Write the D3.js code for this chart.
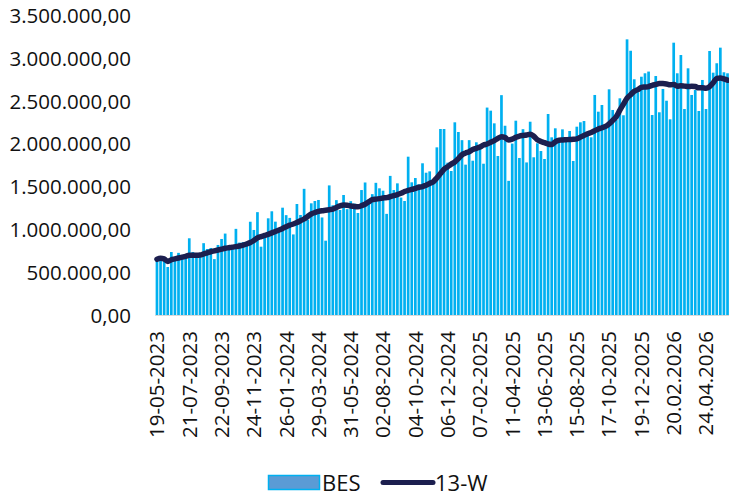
<!DOCTYPE html>
<html>
<head>
<meta charset="utf-8">
<script src="https://cdn.jsdelivr.net/npm/d3@7/dist/d3.min.js"></script>
<style>
	body { margin: 0; background: #fff; }
	svg text { font-family: 'Open Sans', 'Noto Sans', sans-serif; fill: #111; }
</style>
</head>
<body>
<div id="chart"></div>
<script>
// weekly BES values, first week 19-05-2023
var bes = [
	640, 650, 660, 560, 735, 665, 725, 690, 690, 895,
	735, 700, 700, 838, 770, 782, 652, 817, 887, 950,
	790, 805, 1005, 845, 850, 855, 1088, 992, 1200, 797,
	935, 1128, 1210, 1089, 975, 1252, 1165, 1133, 940, 1295,
	1167, 1472, 1110, 1303, 1330, 1342, 1138, 867, 1512, 1280,
	1340, 1225, 1400, 1235, 1328, 1300, 1190, 1458, 1546, 1300,
	1410, 1542, 1478, 1450, 1180, 1623, 1458, 1536, 1370, 1330,
	1847, 1548, 1598, 1525, 1770, 1660, 1676, 1575, 1956, 2170,
	2170, 1777, 1680, 2248, 2135, 2040, 1754, 2040, 1800, 2015,
	1950, 1765, 2420, 2384, 2236, 1855, 2565, 2208, 1565, 2000,
	2267, 1832, 2168, 1780, 2255, 1840, 2003, 1913, 1820, 2345,
	2073, 2178, 2061, 2166, 2040, 2147, 1797, 2197, 2248, 2263,
	2100, 2073, 2567, 2372, 2450, 2210, 2633, 2392, 2275, 2528,
	2330, 3216, 3083, 2750, 2600, 2780, 2820, 2840, 2333, 2788,
	2365, 2637, 2500, 2283, 3177, 2820, 3033, 2403, 2878, 2567,
	2625, 2380, 2742, 2403, 3080, 2827, 2937, 3119, 2832, 2820
];

// 13 week line
var w13 = [
	650, 662, 655, 625, 645, 655, 665, 675, 685, 697,
	697, 697, 700, 712, 725, 738, 748, 758, 768, 778,
	785, 792, 798, 805, 815, 828, 845, 870, 900, 915,
	928, 941, 958, 975, 992, 1010, 1030, 1048, 1062, 1078,
	1100, 1120, 1150, 1178, 1195, 1208, 1217, 1222, 1228, 1235,
	1255, 1272, 1283, 1280, 1272, 1266, 1264, 1275, 1292, 1320,
	1345, 1352, 1358, 1365, 1369, 1380, 1392, 1405, 1420, 1440,
	1455, 1465, 1478, 1490, 1497, 1515, 1535, 1555, 1600, 1650,
	1700, 1730, 1760, 1785, 1825, 1870, 1890, 1905, 1930, 1945,
	1960, 1983, 1995, 2015, 2035, 2060, 2080, 2070, 2042, 2052,
	2072, 2088, 2095, 2100, 2110, 2085, 2045, 2025, 2010, 1995,
	1990, 2020, 2040, 2042, 2045, 2048, 2050, 2055, 2075, 2095,
	2115, 2130, 2150, 2170, 2185, 2200, 2230, 2270, 2315, 2390,
	2460, 2530, 2570, 2610, 2630, 2655, 2660, 2665, 2680, 2690,
	2700, 2700, 2695, 2685, 2690, 2670, 2675, 2670, 2665, 2668,
	2665, 2650, 2650, 2645, 2665, 2710, 2760, 2765, 2755, 2740
];

// x labels, one every 9 weeks
var tickLabels = [
	'19-05-2023', '21-07-2023', '22-09-2023', '24-11-2023', '26-01-2024', '29-03-2024',
	'31-05-2024', '02-08-2024', '04-10-2024', '06-12-2024', '07-02-2025', '11-04-2025',
	'13-06-2025', '15-08-2025', '17-10-2025', '19-12-2025', '20.02.2026', '24.04.2026'
];
var tickEvery = 9;
var yTicks = [0, 500, 1000, 1500, 2000, 2500, 3000, 3500];

var width = 729, height = 497;
var fmt = d3.formatLocale({ decimal: ',', thousands: '.', grouping: [3], currency: ['', ''] }).format(',.2f');

var svg = d3.select('#chart')
	.append('svg')
	.attr('width', width)
	.attr('height', height);

var x = d3.scaleBand()
	.domain(d3.range(bes.length))
	.range([155.2, 729.3])
	.paddingInner(0.25)
	.paddingOuter(0.12);

var y = d3.scaleLinear()
	.domain([0, 3500])
	.range([315, 15]);

// y labels
svg.append('g')
	.attr('transform', 'translate(131,0)')
	.call(d3.axisLeft(y).tickValues(yTicks).tickSize(0).tickPadding(0).tickFormat(function(d) { return fmt(d * 1000); }))
	.call(function(g) { g.select('.domain').remove(); })
	.selectAll('text')
	.style('font-size', '20.5px')
	.attr('dy', '0.36em');

// bars
svg.append('g')
	.selectAll('rect')
	.data(bes)
	.enter()
	.append('rect')
	.attr('x', function(d, i) { return x(i); })
	.attr('width', x.bandwidth())
	.attr('y', function(d) { return y(d); })
	.attr('height', function(d) { return y(0) - y(d); })
	.attr('fill', '#00b0f0');

// baseline + x labels
var xAxis = svg.append('g')
	.attr('transform', 'translate(0,' + y(0) + ')')
	.call(d3.axisBottom(x)
		.tickValues(tickLabels.map(function(d, i) { return i * tickEvery; }))
		.tickSize(0)
		.tickFormat(function(d) { return tickLabels[d / tickEvery]; }));
xAxis.select('.domain').attr('stroke', '#d9d9d9').attr('d', 'M155,0.5H729');
xAxis.selectAll('text')
	.style('font-size', '20.5px')
	.attr('text-anchor', 'end')
	.attr('transform', 'rotate(-90)')
	.attr('x', -16)
	.attr('y', 0)
	.attr('dy', '0.36em');

// 13-W line
var line = d3.line()
	.x(function(d, i) { return x(i) + x.bandwidth() / 2; })
	.y(function(d) { return y(d); })
	.curve(d3.curveMonotoneX);

svg.append('path')
	.datum(w13)
	.attr('d', line)
	.attr('fill', 'none')
	.attr('stroke', '#1c1f4f')
	.attr('stroke-width', 5.5)
	.attr('stroke-linecap', 'round')
	.attr('stroke-linejoin', 'round');

// legend
var legend = svg.append('g');
legend.append('rect')
	.attr('x', 268.5).attr('y', 475.5)
	.attr('width', 51).attr('height', 14)
	.attr('fill', '#5b9bd5')
	.attr('stroke', '#00b0f0')
	.attr('stroke-width', 1.5);
legend.append('text')
	.attr('x', 322).attr('y', 490.5)
	.style('font-size', '22px')
	.text('BES');
legend.append('line')
	.attr('x1', 383).attr('x2', 433)
	.attr('y1', 482.5).attr('y2', 482.5)
	.attr('stroke', '#1c1f4f')
	.attr('stroke-width', 5)
	.attr('stroke-linecap', 'round');
legend.append('text')
	.attr('x', 435).attr('y', 490.5)
	.style('font-size', '22px')
	.text('13-W');
</script>
</body>
</html>
